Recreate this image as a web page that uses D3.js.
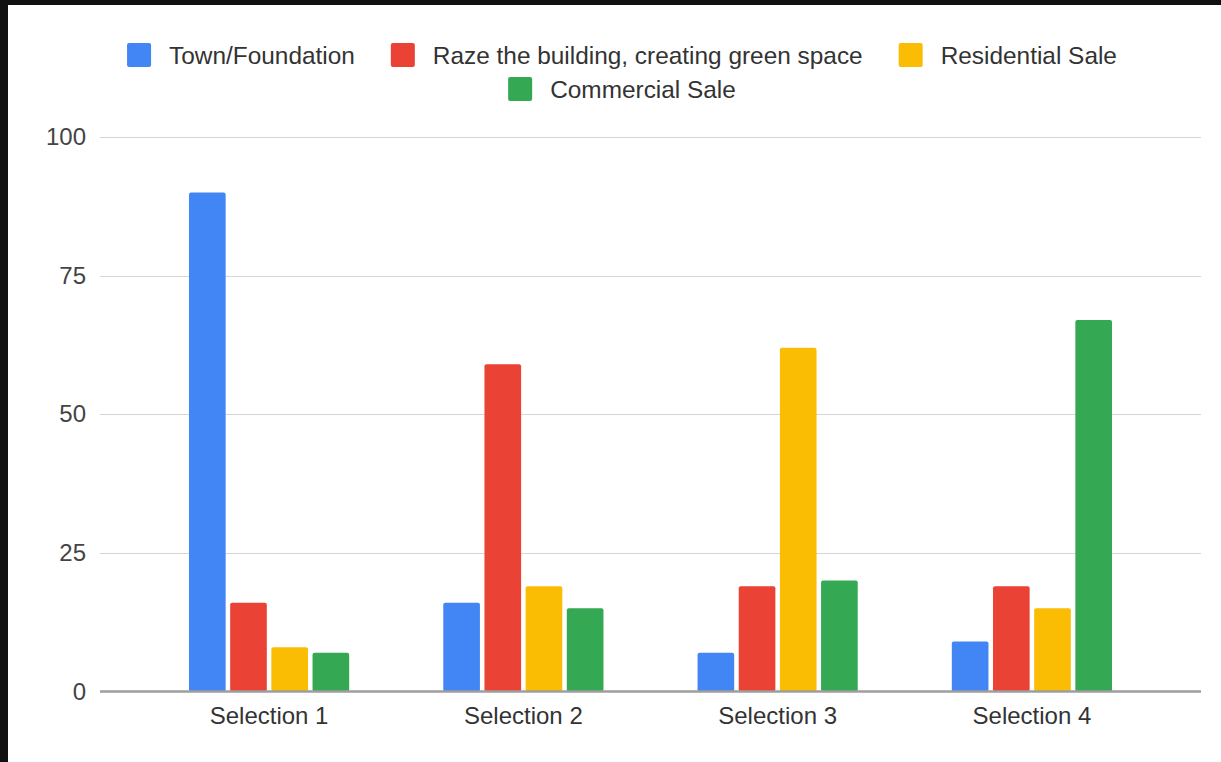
<!DOCTYPE html>
<html><head><meta charset="utf-8">
<script src="https://cdn.jsdelivr.net/npm/d3@7"></script>
<style>html,body{margin:0;padding:0;background:#111;}svg{display:block;}</style>
</head><body>
<svg id="c" width="1221" height="762"></svg>
<script>
const categories = ["Selection 1", "Selection 2", "Selection 3", "Selection 4"];
const seriesNames = ["Town/Foundation", "Raze the building, creating green space", "Residential Sale", "Commercial Sale"];
const townFoundation = [90, 16, 7, 9];
const razeGreenSpace = [16, 59, 19, 19];
const residentialSale = [8, 19, 62, 15];
const commercialSale = [7, 15, 20, 67];
const yTicks = [0, 25, 50, 75, 100];
const colors = ["#4285F4", "#EA4335", "#FBBC04", "#34A853"];

(function () {
const seriesValues = [townFoundation, razeGreenSpace, residentialSale, commercialSale];
const svg = d3.select("#c");
const font = "'Liberation Sans', Arial, sans-serif";

svg.append("rect").attr("width", 1221).attr("height", 762).attr("fill", "#111");
svg.append("rect").attr("x", 8).attr("y", 5).attr("width", 1213).attr("height", 757).attr("fill", "#fff");

const mLeft = 100, mRight = 1201, mTop = 137, mBottom = 691.5;
const y = d3.scaleLinear().domain([0, 100]).range([mBottom, mTop]);
const x0 = d3.scaleBand().domain(categories).range([mLeft, mRight]).paddingInner(0.37).paddingOuter(0.35);
const x1 = d3.scaleBand().domain(d3.range(seriesNames.length)).range([0, x0.bandwidth()]).paddingInner(0.11);

const grid = svg.append("g");
grid.selectAll("line").data(yTicks.filter(t => t > 0)).join("line")
  .attr("x1", mLeft).attr("x2", mRight)
  .attr("y1", d => Math.round(y(d)) + 0.5).attr("y2", d => Math.round(y(d)) + 0.5)
  .attr("stroke", "#d6d6d6").attr("stroke-width", 1.2);

const yAxis = svg.append("g").attr("transform", `translate(${mLeft - 14},0)`)
  .call(d3.axisLeft(y).tickValues(yTicks).tickSize(0).tickPadding(0));
yAxis.select(".domain").remove();
yAxis.selectAll("text").attr("font-family", font).attr("font-size", 24).attr("fill", "#444");

const groups = svg.append("g").selectAll("g").data(categories).join("g")
  .attr("transform", d => `translate(${x0(d)},0)`);
groups.selectAll("rect").data((c, ci) => seriesValues.map((s, si) => ({si, v: s[ci]}))).join("rect")
  .attr("x", d => x1(d.si)).attr("width", x1.bandwidth())
  .attr("y", d => y(d.v)).attr("height", d => y(0) - y(d.v))
  .attr("rx", 2)
  .attr("fill", d => colors[d.si]);

svg.append("line").attr("x1", mLeft).attr("x2", mRight).attr("y1", y(0)).attr("y2", y(0))
  .attr("stroke", "#9e9e9e").attr("stroke-width", 2.5);

const xAxis = svg.append("g").attr("transform", `translate(0,${y(0) + 15})`)
  .call(d3.axisBottom(x0).tickSize(0).tickPadding(0));
xAxis.select(".domain").remove();
xAxis.selectAll("text").attr("font-family", font).attr("font-size", 24).attr("fill", "#333").attr("dy", "0.71em");

const legendRows = [[0, 1, 2], [3]];
const rowY = [55, 89];
const sq = 24, gapText = 18, gapItem = 36, cx = 622;
legendRows.forEach((row, ri) => {
  const g = svg.append("g");
  let xpos = 0;
  row.forEach(si => {
    const item = g.append("g").attr("transform", `translate(${xpos},0)`);
    item.append("rect").attr("x", 0).attr("y", rowY[ri] - sq / 2).attr("width", sq).attr("height", sq)
      .attr("rx", 2).attr("fill", colors[si]);
    const t = item.append("text").attr("x", sq + gapText).attr("y", rowY[ri]).attr("dy", "0.35em")
      .attr("font-family", font).attr("font-size", 24.4).attr("fill", "#333").text(seriesNames[si]);
    xpos += sq + gapText + t.node().getComputedTextLength() + gapItem;
  });
  const w = xpos - gapItem;
  g.attr("transform", `translate(${cx - w / 2},0)`);
});
})();
</script>
</body></html>
